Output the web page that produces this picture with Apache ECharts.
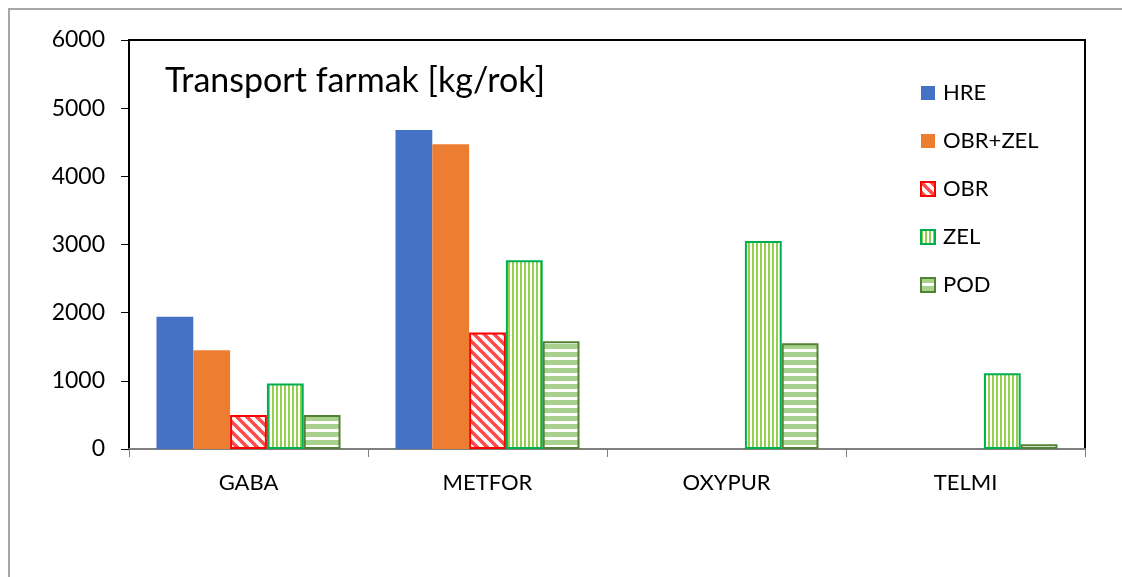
<!DOCTYPE html>
<html>
<head>
<meta charset="utf-8">
<script src="https://cdn.jsdelivr.net/npm/echarts@6/dist/echarts.min.js"></script>
<style>
    html, body { margin: 0; padding: 0; background: #fff; }
    #chart { width: 1122px; height: 577px; }
</style>
</head>
<body>
<div id="chart"></div>
<script>
    var categories = ['GABA', 'METFOR', 'OXYPUR', 'TELMI'];
    var seriesNames = ['HRE', 'OBR+ZEL', 'OBR', 'ZEL', 'POD'];
    var hre = [1940, 4680, null, null];
    var obrZel = [1450, 4470, null, null];
    var obr = [500, 1710, null, null];
    var zel = [960, 2770, 3050, 1110];
    var pod = [500, 1580, 1550, 70];
    var yTicks = [0, 1000, 2000, 3000, 4000, 5000, 6000];

    var fontName = 'Lato';

    // vzorky pro srafovane sloupce
    function diagPattern() {
        var c = document.createElement('canvas');
        c.width = 10; c.height = 10;
        var g = c.getContext('2d');
        g.fillStyle = '#fff';
        g.fillRect(0, 0, 10, 10);
        g.strokeStyle = '#FF4B4B';
        g.lineWidth = 3.5;
        g.beginPath();
        g.moveTo(-2, -2); g.lineTo(12, 12);
        g.moveTo(-12, -2); g.lineTo(2, 12);
        g.moveTo(8, -2); g.lineTo(22, 12);
        g.stroke();
        return c;
    }
    function vertPattern() {
        var c = document.createElement('canvas');
        c.width = 4; c.height = 4;
        var g = c.getContext('2d');
        g.fillStyle = '#fff';
        g.fillRect(0, 0, 4, 4);
        g.fillStyle = '#92D050';
        g.fillRect(0, 0, 2, 4);
        return c;
    }
    function horzPattern() {
        var c = document.createElement('canvas');
        c.width = 8; c.height = 8;
        var g = c.getContext('2d');
        g.fillStyle = '#fff';
        g.fillRect(0, 0, 8, 8);
        g.fillStyle = '#A9D18E';
        g.fillRect(0, 0, 8, 5);
        return c;
    }

    var chart = echarts.init(document.getElementById('chart'));

    var option = {
        animation: false,
        backgroundColor: '#fff',
        graphic: [{
            type: 'rect',
            shape: { x: 9, y: 9, width: 1200, height: 700 },
            style: { fill: null, stroke: '#A6A6A6', lineWidth: 2 },
            silent: true
        }, {
            type: 'text',
            left: 165,
            top: 64,
            style: {
                text: 'Transport farmak [kg/rok]',
                font: '34px ' + fontName,
                fill: '#000'
            }
        }],
        legend: {
            orient: 'vertical',
            left: 915,
            top: 77,
            itemWidth: 14,
            itemHeight: 14,
            itemGap: 26,
            icon: 'rect',
            data: seriesNames,
            textStyle: { fontFamily: fontName, fontSize: 22, color: '#000', padding: [0, 0, 0, 3] }
        },
        grid: {
            left: 129,
            top: 40,
            right: 37,
            bottom: 128,
            show: true,
            borderColor: '#000',
            borderWidth: 2,
            backgroundColor: 'transparent'
        },
        xAxis: {
            type: 'category',
            data: categories,
            axisLine: { lineStyle: { color: '#7F7F7F', width: 2 } },
            axisTick: { show: true, length: 8, lineStyle: { color: '#7F7F7F', width: 1 } },
            axisLabel: { fontFamily: fontName, fontSize: 22, color: '#000', margin: 23 },
            splitLine: { show: false }
        },
        yAxis: {
            type: 'value',
            min: yTicks[0],
            max: yTicks[yTicks.length - 1],
            interval: 1000,
            axisLine: { show: true, lineStyle: { color: '#000', width: 2 } },
            axisTick: { show: true, length: 8, lineStyle: { color: '#000', width: 1 } },
            axisLabel: {
                fontFamily: fontName, fontSize: 23, color: '#000', margin: 24,
                formatter: function (v) { return String(v); }
            },
            splitLine: { show: false }
        },
        series: [
            {
                name: seriesNames[0], type: 'bar', data: hre,
                barCategoryGap: '23%', barGap: '0%',
                itemStyle: { color: '#4472C4' }
            },
            {
                name: seriesNames[1], type: 'bar', data: obrZel,
                itemStyle: { color: '#ED7D31' }
            },
            {
                name: seriesNames[2], type: 'bar', data: obr,
                itemStyle: { color: { image: diagPattern(), repeat: 'repeat' }, borderColor: '#FF0000', borderWidth: 2 }
            },
            {
                name: seriesNames[3], type: 'bar', data: zel,
                itemStyle: { color: { image: vertPattern(), repeat: 'repeat' }, borderColor: '#00B050', borderWidth: 2 }
            },
            {
                name: seriesNames[4], type: 'bar', data: pod,
                itemStyle: { color: { image: horzPattern(), repeat: 'repeat' }, borderColor: '#548235', borderWidth: 2 }
            }
        ]
    };
    chart.setOption(option);
</script>
</body>
</html>
